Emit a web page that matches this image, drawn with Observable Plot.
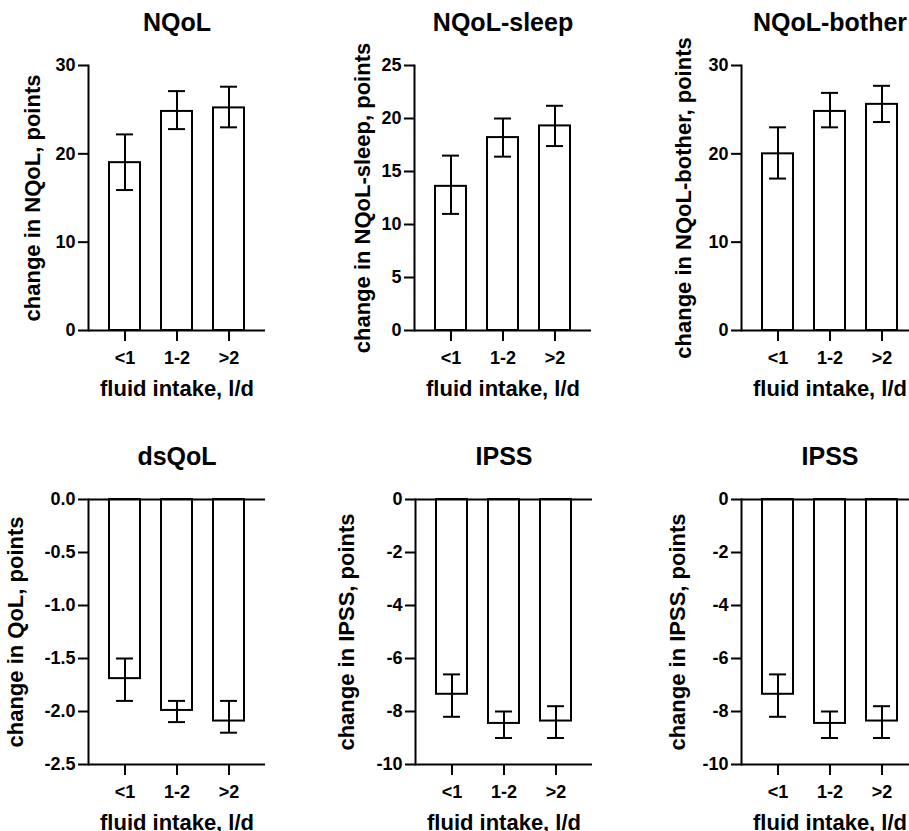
<!DOCTYPE html>
<html>
<head>
<meta charset="utf-8">
<script src="https://cdn.jsdelivr.net/npm/d3@7"></script>
<script src="https://cdn.jsdelivr.net/npm/@observablehq/plot@0.6"></script>
<style>
  html, body { margin: 0; padding: 0; background: #fff; overflow: hidden; width: 909px; height: 831px; }
  #wrap { position: relative; width: 909px; height: 831px; overflow: hidden; background: #fff; }
  .panel { position: absolute; width: 310px; height: 434px; }
  .panel svg { max-width: none !important; }
</style>
</head>
<body>
<div id="wrap"></div>
<script>
// ---- data ----
const categories = ["<1", "1-2", ">2"];
const titles = ["NQoL", "NQoL-sleep", "NQoL-bother", "dsQoL", "IPSS", "IPSS"];
const yLabels = [
  "change in NQoL, points",
  "change in NQoL-sleep, points",
  "change in NQoL-bother, points",
  "change in QoL, points",
  "change in IPSS, points",
  "change in IPSS, points"
];
const xLabel = "fluid intake, l/d";
const means = [
  [19.0, 24.8, 25.2],
  [13.6, 18.2, 19.3],
  [20.0, 24.8, 25.6],
  [-1.69, -1.99, -2.09],
  [-7.35, -8.45, -8.36],
  [-7.35, -8.45, -8.36]
];
const errLow = [
  [15.9, 22.8, 23.0],
  [11.0, 16.4, 17.4],
  [17.2, 23.0, 23.6],
  [-1.9, -2.1, -2.2],
  [-8.2, -9.0, -9.0],
  [-8.2, -9.0, -9.0]
];
const errHigh = [
  [22.2, 27.1, 27.6],
  [16.5, 20.0, 21.2],
  [23.0, 26.9, 27.7],
  [-1.5, -1.9, -1.9],
  [-6.6, -8.0, -7.8],
  [-6.6, -8.0, -7.8]
];
const yDomains = [[0, 30], [0, 25], [0, 30], [-2.5, 0], [-10, 0], [-10, 0]];
const yTicks = [
  [0, 10, 20, 30],
  [0, 5, 10, 15, 20, 25],
  [0, 10, 20, 30],
  [0, -0.5, -1, -1.5, -2, -2.5],
  [0, -2, -4, -6, -8, -10],
  [0, -2, -4, -6, -8, -10]
];
const yTickDecimals = [0, 0, 0, 1, 0, 0];

// ---- layout (positions only) ----
const layout = [
  {left: 0,   top: 0,   labelOffset: 56},
  {left: 326, top: 0,   labelOffset: 52},
  {left: 653, top: 0,   labelOffset: 58},
  {left: 0,   top: 434, labelOffset: 73},
  {left: 327, top: 434, labelOffset: 69},
  {left: 653, top: 434, labelOffset: 64}
];

const FONT = "'Liberation Sans', Arial, Helvetica, sans-serif";
const wrap = document.getElementById("wrap");

titles.forEach((title, i) => {
  const data = categories.map((c, j) => ({cat: c, mean: means[i][j], lo: errLow[i][j], hi: errHigh[i][j]}));
  const [y0] = yDomains[i];
  const hLines = Array.from(new Set([0, y0]));
  const dec = yTickDecimals[i];
  const L = layout[i];
  const chart = Plot.plot({
    width: 88 + 177 + 45,
    height: 434,
    marginLeft: 88,
    marginRight: 45,
    marginTop: 65,
    marginBottom: 104,
    x: {domain: categories, paddingInner: 0.4, paddingOuter: 0.37, axis: null},
    y: {domain: yDomains[i], axis: null},
    style: {fontFamily: FONT, background: "none", overflow: "visible", color: "#000", maxWidth: "none"},
    marks: [
      Plot.barY(data, {x: "cat", y: "mean", fill: "white", stroke: "black", strokeWidth: 2}),
      Plot.ruleX(data, {x: "cat", y1: "lo", y2: "hi", stroke: "black", strokeWidth: 2}),
      Plot.tickY(data, {x: "cat", y: "lo", inset: 7, stroke: "black", strokeWidth: 2}),
      Plot.tickY(data, {x: "cat", y: "hi", inset: 7, stroke: "black", strokeWidth: 2}),
      Plot.ruleY(hLines, {stroke: "black", strokeWidth: 2}),
      Plot.frame({anchor: "left", stroke: "black", strokeWidth: 2}),
      Plot.axisY({
        ticks: yTicks[i], tickSize: 10, tickPadding: 3,
        tickFormat: d => d.toFixed(dec),
        fontSize: 18, fontWeight: "bold", label: null, stroke: "black", strokeWidth: 2, fill: "black"
      }),
      Plot.axisX({
        tickSize: 11, tickPadding: 10,
        fontSize: 18, fontWeight: "bold", label: null, stroke: "black", strokeWidth: 2, fill: "black"
      }),
      Plot.text([title], {frameAnchor: "top", dy: -35, lineAnchor: "bottom", fontSize: 25, fontWeight: "bold", fill: "black"}),
      Plot.text([yLabels[i]], {frameAnchor: "left", textAnchor: "middle", dx: -L.labelOffset, rotate: -90, fontSize: 22, fontWeight: "bold", fill: "black"}),
      Plot.text([xLabel], {frameAnchor: "bottom", dy: 65, lineAnchor: "bottom", fontSize: 22, fontWeight: "bold", fill: "black"})
    ]
  });
  const div = document.createElement("div");
  div.className = "panel";
  div.style.left = L.left + "px";
  div.style.top = L.top + "px";
  div.appendChild(chart);
  wrap.appendChild(div);
});
</script>
</body>
</html>
